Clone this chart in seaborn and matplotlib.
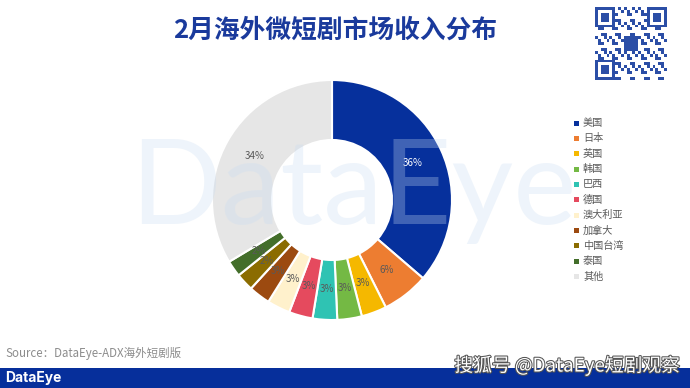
import numpy as np
import pandas as pd
import matplotlib
matplotlib.use("Agg")
import matplotlib.pyplot as plt
import seaborn as sns
from matplotlib.patches import Rectangle
from matplotlib.colors import ListedColormap
import matplotlib.patheffects as pe

# ---------------- data ----------------
categories = ["美国", "日本", "英国", "韩国", "巴西", "德国", "澳大利亚", "加拿大", "中国台湾", "泰国", "其他"]
shares = [36.3, 6.3, 3.4, 3.3, 3.3, 3.2, 3.1, 2.9, 2.4, 2.2, 33.6]
colors = ["#06309c", "#ed7d31", "#f5b800", "#74b944", "#2fc3b3", "#e54a5e",
          "#fff1cc", "#9c4a10", "#8b6c00", "#436e2a", "#e6e6e6"]
title = "2月海外微短剧市场收入分布"
source = "Source：DataEye-ADX海外短剧版"

df = pd.DataFrame({"region": categories, "share": shares})

sns.set_theme(style="white")
plt.rcParams['font.family'] = ['Noto Sans CJK SC', 'DejaVu Sans']

W, H = 690, 388
fig = plt.figure(figsize=(6.9, 3.88), dpi=100)
fig.patch.set_facecolor('white')


def fx(px):
    return px / W


def fy(py):
    return 1 - py / H


# ---------------- donut ----------------
ax = fig.add_axes([fx(212), fy(320), 240 / W, 240 / H])
palette = sns.color_palette(colors)
wedges, texts, autotexts = ax.pie(
    df["share"], colors=palette, startangle=90, counterclock=False, radius=1,
    wedgeprops=dict(width=0.5, edgecolor='white', linewidth=1.5),
    autopct=lambda p: f"{p:.0f}%", pctdistance=0.74,
    textprops=dict(fontsize=7, color='#595959'))
autotexts[0].set_color('white')
ax.set_xlim(-1, 1)
ax.set_ylim(-1, 1)
ax.axis('off')

# ---------------- watermark ----------------
fig.text(fx(130), fy(190), "DataEye", fontsize=86, color='#c8dcf2', alpha=0.3,
         va='center', ha='left', family='Lato', weight='normal', zorder=10)

# ---------------- legend ----------------
for i, (name, c) in enumerate(zip(categories, colors)):
    y = 123 + 15.35 * i
    fig.add_artist(Rectangle((fx(574), fy(y + 2.5)), 5 / W, 5 / H,
                             transform=fig.transFigure, facecolor=c, edgecolor='none'))
    fig.text(fx(583), fy(y), name, fontsize=7.3, color='#595959', va='center', ha='left')

# ---------------- title ----------------
fig.text(fx(335), fy(30), title, fontsize=18.5, weight='bold', color='#1a3a9c',
         ha='center', va='center')

# ---------------- source & footer ----------------
fig.text(fx(5), fy(353), source, fontsize=8.3, color='#8c8c8c', va='center', ha='left')
fig.add_artist(Rectangle((0, 0), 1, 20 / H, transform=fig.transFigure,
                         facecolor='#062f9b', edgecolor='none'))
fig.text(fx(5), fy(378), "DataEye", fontsize=10, color='white', va='center', ha='left',
         family='Inter', weight='bold')
fig.text(fx(680), fy(366), "搜狐号 @DataEye短剧观察", fontsize=13.5, color='white',
         va='center', ha='right',
         path_effects=[pe.withStroke(linewidth=1.5, foreground='#555555')])

# ---------------- QR-like badge ----------------
qax = fig.add_axes([fx(595), fy(80), 72 / W, 73 / H])
n = 25
g = np.zeros((n, n))
for i in range(n):
    for j in range(n):
        g[i, j] = 1 if ((i * i * 3 + j * 7 + i * j) % 5) < 2 else 0
for (r0, c0) in [(0, 0), (0, n - 7), (n - 7, 0)]:
    blk = np.zeros((7, 7))
    blk[0, :] = blk[-1, :] = blk[:, 0] = blk[:, -1] = 1
    blk[2:5, 2:5] = 1
    g[r0:r0 + 7, c0:c0 + 7] = blk
g[10:15, 10:15] = 1
qax.imshow(g, cmap=ListedColormap(['white', '#2b4ea6']), aspect='auto',
           interpolation='nearest')
qax.axis('off')

fig.savefig("out.png", dpi=100)
